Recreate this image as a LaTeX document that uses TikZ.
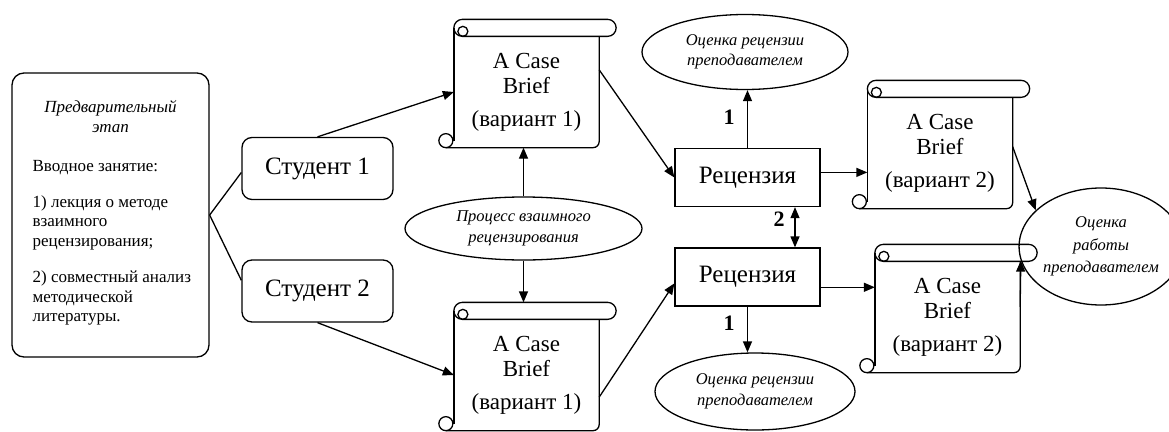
\documentclass[tikz,border=0pt]{standalone}
\usepackage{fontspec}
\setmainfont{Liberation Serif}
\usepackage{tikz}
\usetikzlibrary{arrows.meta, shapes.geometric}

%% scroll outline round a body node: tube on top, curls on the left
\newcommand{\drawscroll}[1]{%
  \coordinate (#1top) at ([yshift=17pt]#1.north);
  \draw[rounded corners=8.5pt] ([yshift=17pt]#1.north west) rectangle ([xshift=17pt]#1.north east);
  \draw ([xshift=9pt,yshift=5pt]#1.north west) circle (5pt);
  \draw ([yshift=8.5pt]#1.north west) -- ([yshift=7pt]#1.south west);
  \draw ([xshift=-8pt,yshift=7pt]#1.south west) circle (7pt);
  \draw[rounded corners=6pt] ([xshift=-8pt]#1.south west) -- (#1.south east) -- (#1.north east);
}

\begin{document}
\begin{tikzpicture}[x=1pt, y=-1pt, line width=1.3pt,
  >={Triangle[length=11pt,width=9pt]},
  txt/.style={font=\fontsize{#1}{25}\selectfont, align=center},
  stud/.style={txt=25, draw, rounded corners=10pt, minimum width=151pt, minimum height=62pt},
  rec/.style={txt=25, draw, minimum width=145pt, minimum height=58pt},
  scrollbody/.style={txt=23, minimum width=144pt, minimum height=110pt, inner sep=0pt},
  oval/.style={draw, ellipse, inner sep=0pt, align=center,
               font=\fontsize{16.5}{20.5}\selectfont\itshape},
  num/.style={font=\fontsize{22}{22}\selectfont\bfseries},
]
\useasboundingbox (0,0) rectangle (1169,431);

%% Preliminary stage
\node[draw, rounded corners=12pt, minimum width=197pt, minimum height=284pt] (prelim) at (110.5,215) {};
\node[align=center, font=\fontsize{17}{20}\selectfont\itshape] (prelimhead) at (110.5,117)
  {Предварительный\\этап};
\node[align=left, anchor=north west, inner sep=0pt, font=\fontsize{17}{19.5}\selectfont] (prelimtext) at (32,160)
  {Вводное занятие:\\[16pt]1) лекция о методе\\взаимного\\рецензирования;\\[17pt]2) совместный анализ\\методической\\литературы.};

%% Students
\node[stud] (stud1) at (317.5,168.5) {Студент 1};
\node[stud] (stud2) at (317.5,291) {Студент 2};

%% Case briefs (scrolls)
\node[scrollbody] (case1) at (526.5,92) {A Case\\Brief\\[8pt](вариант 1)};
\node[scrollbody] (case2) at (526.5,375) {A Case\\Brief\\[8pt](вариант 1)};
\node[scrollbody] (case3) at (940,153) {A Case\\Brief\\[8pt](вариант 2)};
\node[scrollbody] (case4) at (947.5,317) {A Case\\Brief\\[8pt](вариант 2)};
\foreach \c in {case1,case2,case3,case4} {\drawscroll{\c}}

%% Ovals
\node[oval, minimum width=237pt, minimum height=63pt] (proc) at (523.5,228.5) {Процесс взаимного\\рецензирования};
\node[oval, minimum width=206pt, minimum height=75pt] (mark1) at (745,52) {Оценка рецензии\\преподавателем};
\node[oval, minimum width=200pt, minimum height=77pt] (mark2) at (755,391.5) {Оценка рецензии\\преподавателем};

%% Reviews
\node[rec] (rev1) at (747.5,177.5) {Рецензия};
\node[rec] (rev2) at (747.5,277) {Рецензия};

%% Final mark
\node[oval, minimum width=132pt, minimum height=117pt, font=\fontsize{16.5}{22.5}\selectfont\itshape] (final) at (1101,246.5)
  {Оценка\\работы\\преподавателем};

%% Connectors
\draw (prelim.east) -- (stud1.183);
\draw (prelim.east) -- (stud2.172);
\draw[->] (stud1.north) -- (case1.west);
\draw[->] (stud2.south) -- (case2.west);
\draw[->] (proc.north) -- (proc.north |- case1.south);
\draw[->] (proc.south) -- (proc.south |- case2top);
\draw[->] (case1.17) -- (rev1.west);
\draw[->] (case2.-17) -- (rev2.185);
\draw[<->] ([xshift=47.5pt]rev1.south) -- ([xshift=47.5pt]rev2.north);
\draw[->] (rev1.north) -- (rev1.north |- mark1.south);
\draw[->] (rev2.south) -- (rev2.south |- mark2.north);
\draw[->] (rev1.4) -- (rev1.4 -| case3.west);
\draw[->] (rev2.-8) -- (rev2.-8 -| case4.west);
\draw[->] (case3.5) -- (final.151);
\draw[->] (case4.8) -- (final.190);

%% Step numbers
\node[num] (n1top) at (729,117) {1};
\node[num] (n2) at (779,219) {2};
\node[num] (n1bot) at (729,323) {1};
\end{tikzpicture}
\end{document}
